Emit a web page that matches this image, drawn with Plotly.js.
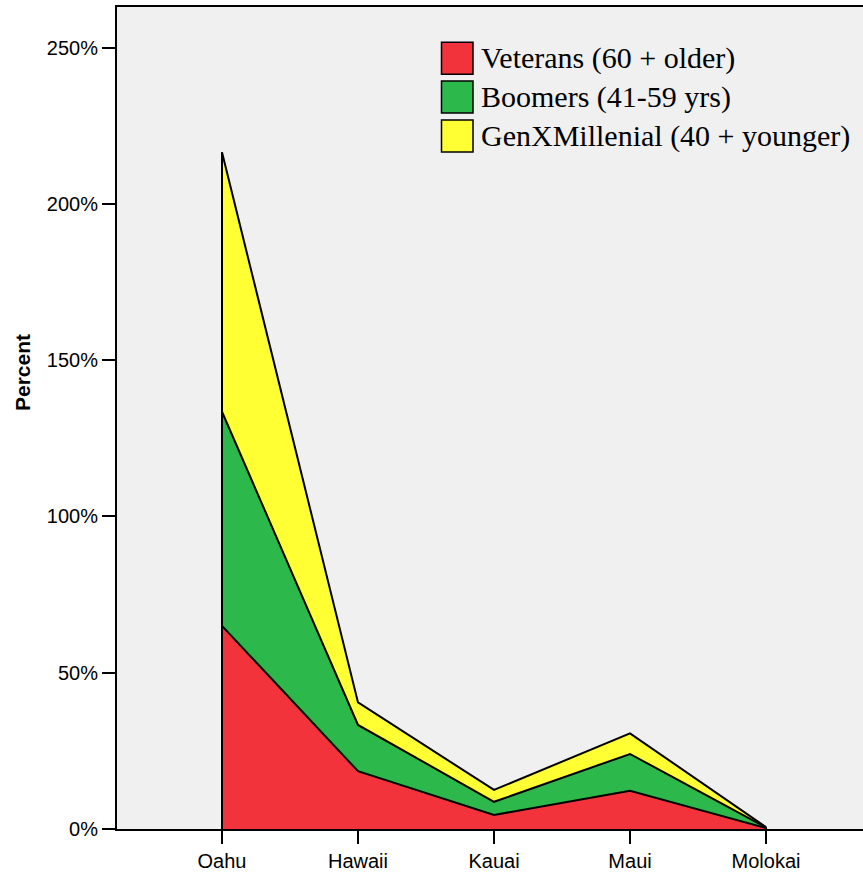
<!DOCTYPE html>
<html>
<head>
<meta charset="utf-8">
<script src="https://cdn.plot.ly/plotly-3.0.1.min.js"></script>
<style>html,body{margin:0;padding:0;background:#fff;}#chart{width:863px;height:873px;}</style>
</head>
<body>
<div id="chart"></div>
<script>
const islands = ["Oahu", "Hawaii", "Kauai", "Maui", "Molokai"];
const veterans = [65, 18.5, 4.5, 12.2, 0.3];
const boomers = [68.5, 14.8, 4.2, 11.8, 0.2];
const genx = [83, 7.2, 3.8, 6.6, 0.1];
const seriesNames = ["Veterans (60 + older)", "Boomers (41-59 yrs)", "GenXMillenial (40 + younger)"];
const seriesColors = ["#F2333C", "#2DB84B", "#FFFF33"];
const yTicks = [0, 50, 100, 150, 200, 250];
const yTitle = "Percent";

const series = [veterans, boomers, genx];
const traces = series.map((vals, i) => ({
  type: "scatter", mode: "lines", x: islands, y: vals,
  stackgroup: "one", name: seriesNames[i],
  line: {color: "#000", width: 2}, fillcolor: seriesColors[i],
  hoverinfo: "skip", showlegend: false
}));
// vertical edges at first and last category
const totals = islands.map((_, j) => series.reduce((s, a) => s + a[j], 0));
[0, islands.length - 1].forEach(j => {
  traces.push({type: "scatter", mode: "lines", x: [islands[j], islands[j]], y: [0, totals[j]],
    line: {color: "#000", width: 2}, hoverinfo: "skip", showlegend: false});
});

// custom legend
const L = 117, R = 863, T = 7, B = 829;
const px = v => (v - L) / (R - L), py = v => (B - v) / (B - T);
const shapes = [], annotations = [];
seriesNames.forEach((n, i) => {
  const top = 42.3 + i * 38.8;
  shapes.push({type: "rect", xref: "paper", yref: "paper",
    x0: px(441.5), x1: px(473), y0: py(top), y1: py(top + 32),
    fillcolor: seriesColors[i], line: {color: "#000", width: 1.5}});
  annotations.push({xref: "paper", yref: "paper", x: px(479), y: py(top + 16),
    xanchor: "left", yanchor: "middle", text: n, showarrow: false,
    font: {family: "Liberation Serif, Times New Roman, serif", size: 30, color: "#000"}});
});
annotations.push({xref: "paper", yref: "paper", x: px(22), y: py(373),
  xanchor: "center", yanchor: "middle", textangle: -90, showarrow: false,
  text: "<b>" + yTitle + "</b>",
  font: {family: "Arial, Liberation Sans, sans-serif", size: 21, color: "#000"}});

const layout = {
  width: 863, height: 873,
  margin: {l: 117, r: 0, t: 7, b: 44, pad: 0},
  paper_bgcolor: "#fff", plot_bgcolor: "#F0F0F0",
  showlegend: false,
  xaxis: {
    type: "category", range: [-0.772, 4.713],
    showgrid: false, zeroline: false,
    showline: true, linecolor: "#000", linewidth: 2, mirror: true,
    ticks: "outside", ticklen: 13, tickwidth: 2, tickcolor: "#000",
    tickfont: {family: "Arial, Liberation Sans, sans-serif", size: 20, color: "#000"}
  },
  yaxis: {
    range: [0, 263], tickvals: yTicks, ticktext: yTicks.map(v => v + "%"),
    showgrid: false, zeroline: false,
    showline: true, linecolor: "#000", linewidth: 2,
    ticks: "outside", ticklen: 13, tickwidth: 2, tickcolor: "#000",
    tickfont: {family: "Arial, Liberation Sans, sans-serif", size: 20, color: "#000"}
  },
  shapes: shapes, annotations: annotations
};
Plotly.newPlot("chart", traces, layout, {displayModeBar: false, staticPlot: true});
</script>
</body>
</html>
